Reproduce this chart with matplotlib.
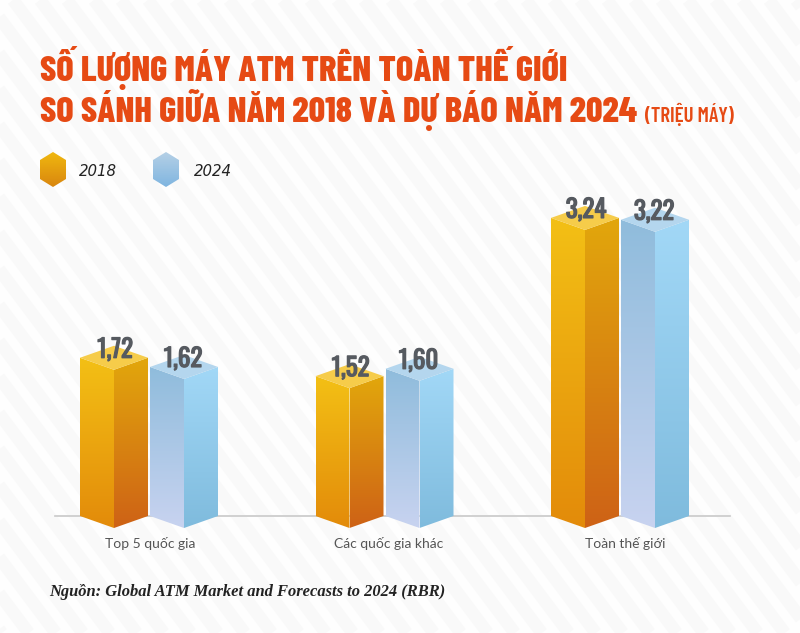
import matplotlib
matplotlib.use("Agg")
import matplotlib.pyplot as plt
import matplotlib.patheffects as pe
import numpy as np
from matplotlib.colors import LinearSegmentedColormap
from matplotlib.patches import Polygon

categories = ["Top 5 quốc gia", "Các quốc gia khác", "Toàn thế giới"]
years = ["2018", "2024"]
values_2018 = [1.72, 1.52, 3.24]
values_2024 = [1.62, 1.60, 3.22]

W, H = 800, 633
GROUP_PX = 235.5
UNIT_PX = 92.0
half_w = 34 / GROUP_PX
offset = 35 / GROUP_PX
depth = 12 / UNIT_PX

orange = {"left": ("#F3C015", "#E38B0A"), "right": ("#E2A70C", "#CE6216"), "top": "#F6CC4A"}
blue = {"left": ("#8FBCDC", "#C8D3F0"), "right": ("#A2D8F7", "#7FBBDD"), "top": "#B4D6EE"}


def gradient_face(ax, verts, top, bottom, zorder=3):
    verts = np.array(verts)
    cmap = LinearSegmentedColormap.from_list("face", [bottom, top])
    ext = (verts[:, 0].min(), verts[:, 0].max(), verts[:, 1].min(), verts[:, 1].max())
    im = ax.imshow(np.linspace(0, 1, 256).reshape(-1, 1), cmap=cmap, extent=ext, origin="lower",
                   aspect="auto", zorder=zorder, interpolation="bilinear")
    im.set_clip_path(Polygon(verts, transform=ax.transData))


def draw_bar(ax, x, v, style):
    l, r = x - half_w, x + half_w
    gradient_face(ax, [(l, depth), (l, v + depth), (x, v), (x, 0)], *style["left"])
    gradient_face(ax, [(x, 0), (x, v), (r, v + depth), (r, depth)], *style["right"])
    ax.add_patch(Polygon([(l, v + depth), (x, v + 2 * depth), (r, v + depth), (x, v)],
                         fc=style["top"], ec="none", zorder=3))


fig = plt.figure(figsize=(W / 100, H / 100), dpi=100, facecolor="#FEFEFE")

# page axes, in pixels from the top left
page = fig.add_axes([0, 0, 1, 1])
page.axis("off")
for x0 in np.arange(-500, 820, 27):
    page.plot([x0, x0 + 0.75 * H], [0, H], color="#F9F9F9", lw=9, solid_capstyle="butt", zorder=0)

title_font = "Barlow Condensed"
title_color = "#E64A14"
page.text(40, 81, "SỐ LƯỢNG MÁY ATM TRÊN TOÀN THẾ GIỚI", family=title_font, weight=800,
          fontsize=26, color=title_color, va="baseline")
page.text(40, 122, "SO SÁNH GIỮA NĂM 2018 VÀ DỰ BÁO NĂM 2024", family=title_font, weight=800,
          fontsize=26, color=title_color, va="baseline")
page.text(645, 122, "(TRIỆU MÁY)", family=title_font, weight="semibold",
          fontsize=15, color=title_color, va="baseline")

# legend
for cx, label, lx, cols in [(53, years[0], 79, ("#F0B80F", "#D9860F")), (166, years[1], 194, ("#B5D0E6", "#7FB5E0"))]:
    hexagon = [(cx - 13, 160), (cx, 152), (cx + 13, 160), (cx + 13, 179), (cx, 187), (cx - 13, 179)]
    gradient_face(page, hexagon, cols[1], cols[0])
    page.text(lx, 171, label, style="italic", fontsize=10.8, color="#222222", va="center")

page.text(49.5, 592, "Nguồn: Global ATM Market and Forecasts to 2024 (RBR)", family="Liberation Serif",
          style="italic", weight="bold", fontsize=11.85, color="#222222", va="center")
page.set_xlim(0, W)
page.set_ylim(H, 0)

# chart axes: x = group index, y = value, zero at the front foot of the bars
ax_left = 149 - GROUP_PX / 2
ax_bottom = 60
ax = fig.add_axes([ax_left / W, ax_bottom / H, 3 * GROUP_PX / W, 420 / H])
ax.patch.set_alpha(0)
for s in ax.spines.values():
    s.set_visible(False)
ax.set_yticks([])
ax.set_xticks([])

ax.plot([(55 - 149) / GROUP_PX, (730 - 149) / GROUP_PX], [depth, depth], color="#C9C9C9", lw=1.2, zorder=1)

x = np.arange(len(categories))
label_dx = [1, 4, 5]
for i in x:
    draw_bar(ax, i - offset, values_2018[i], orange)
    draw_bar(ax, i + offset, values_2024[i], blue)
    for xb, v, dx in [(i - offset, values_2018[i], 1), (i + offset, values_2024[i], -1)]:
        t = ax.annotate(f"{v:.2f}".replace(".", ","), (xb, v), xytext=(dx, 12), textcoords="offset pixels",
                        ha="center", va="baseline", family=["Oswald", "Barlow Condensed", "DejaVu Sans"],
                        fontsize=18, color="#565A60", zorder=5)
        # the installed Oswald comes out thin, thicken it
        t.set_path_effects([pe.withStroke(linewidth=0.9, foreground="#565A60")])
    ax.annotate(categories[i], (i, 0), xytext=(label_dx[i], -15), textcoords="offset pixels",
                ha="center", va="center", family="Lato", fontsize=10, color="#555555")

ax.set_xlim(-0.5, 2.5)
ax.set_ylim((528 - (H - ax_bottom)) / UNIT_PX, (528 - (H - ax_bottom) + 420) / UNIT_PX)

fig.savefig("out.png", dpi=100, facecolor=fig.get_facecolor())
